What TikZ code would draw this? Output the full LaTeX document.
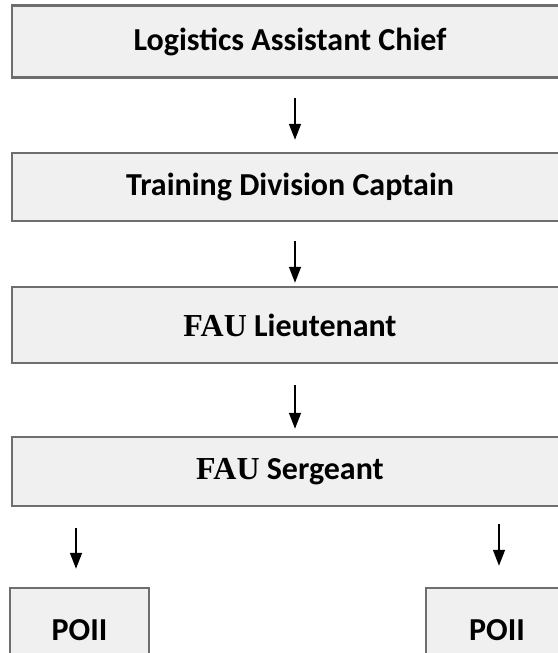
\documentclass[tikz,border=0pt]{standalone}
\usepackage{fontspec}
\setmainfont{Carlito}
\newfontfamily\timesfont{Liberation Serif}
\usetikzlibrary{arrows.meta,positioning}
\definecolor{boxgray}{HTML}{F0F0F0}
\definecolor{edgegray}{HTML}{6E6E6E}

\begin{document}
\begin{tikzpicture}[x=1pt,y=-1pt,>={Triangle[length=16pt,width=12pt]},
    post/.style={draw=edgegray,line width=2.5pt,fill=boxgray,inner sep=0pt,
        minimum width=556pt,font=\fontsize{32}{38}\selectfont\bfseries},
    smallpost/.style={post,minimum width=140pt,minimum height=84pt},
    flow/.style={->,line width=1.5pt}]
    \useasboundingbox (0,0) rectangle (557,653);

    \node[post,minimum height=72pt] (chief)    at (290,41.5)  {Logistics Assistant Chief};
    \node[post,minimum height=68pt] (captain)  at (290,187)   {Training Division Captain};
    \node[post,minimum height=76pt] (lieut)    at (290,325)   {{\timesfont FAU} Lieutenant};
    \node[post,minimum height=69pt] (sergeant) at (290,471.5) {{\timesfont FAU} Sergeant};
    \node[smallpost,minimum width=139pt] (poiiL) at (79.5,630) {POII};
    \node[smallpost,minimum width=142pt] (poiiR) at (497,630)  {POII};

    \coordinate (mid) at (295,0);
    \coordinate (lft) at (76,0);
    \coordinate (rgt) at (499,0);

    \draw[flow,shorten <=19pt,shorten >=12pt] (chief.south -| mid) -- (captain.north -| mid);
    \draw[flow,shorten <=19pt,shorten >=3pt]  (captain.south -| mid) -- (lieut.north -| mid);
    \draw[flow,shorten <=21pt,shorten >=7pt]  (lieut.south -| mid) -- (sergeant.north -| mid);
    \draw[flow,shorten <=21pt,shorten >=18pt] (sergeant.south -| lft) -- (poiiL.north -| lft);
    \draw[flow,shorten <=17pt,shorten >=21pt] (sergeant.south -| rgt) -- (poiiR.north -| rgt);
\end{tikzpicture}
\end{document}
